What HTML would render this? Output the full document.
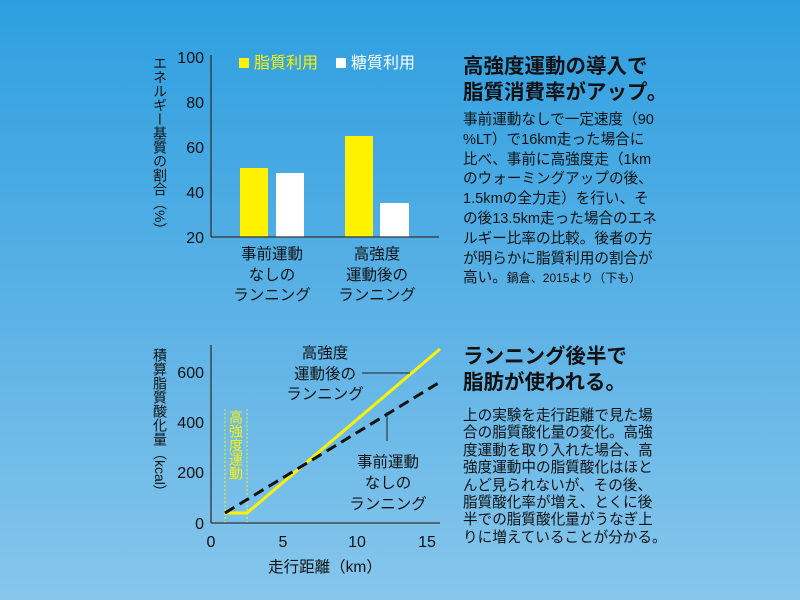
<!DOCTYPE html>
<html><head><meta charset="utf-8"><style>
html,body{margin:0;padding:0}
body{width:800px;height:600px;overflow:hidden;background:linear-gradient(#2e9fe0,#5eb3e6 55%,#86c6ec);font-family:"Liberation Sans","Noto Sans CJK JP",sans-serif;position:relative;color:#111}
.t{position:absolute;white-space:nowrap}
.h{font-weight:bold;font-size:20.5px;line-height:26px;left:463px}
.b{font-size:14.6px;left:463px}
.v{position:absolute;writing-mode:vertical-rl;font-size:14px;line-height:15px;letter-spacing:0}
</style></head><body>
<svg width="800" height="600" style="position:absolute;left:0;top:0" font-family="Liberation Sans, Noto Sans CJK JP, sans-serif">
<rect x="240" y="168" width="28" height="69" fill="#fff200"/>
<rect x="276" y="173" width="28" height="64" fill="#fff"/>
<rect x="345" y="136" width="28" height="101" fill="#fff200"/>
<rect x="380" y="203" width="29" height="34" fill="#fff"/>
<line x1="211" y1="55" x2="211" y2="237" stroke="#333" stroke-width="1.3"/>
<line x1="211" y1="237" x2="439" y2="237" stroke="#333" stroke-width="1.3"/>
<g font-size="16" fill="#111" text-anchor="end">
<text x="204" y="63">100</text><text x="204" y="108">80</text><text x="204" y="153">60</text><text x="204" y="198">40</text><text x="204" y="243">20</text>
</g>
<rect x="239" y="58" width="10" height="10" fill="#fff200"/>
<text x="254" y="68" font-size="16" fill="#fff200">脂質利用</text>
<rect x="336" y="58" width="10" height="10" fill="#fff"/>
<text x="351" y="68" font-size="16" fill="#fff">糖質利用</text>
<g font-size="15.5" fill="#111" text-anchor="middle">
<text x="272" y="259">事前運動</text><text x="272" y="280">なしの</text><text x="272" y="300">ランニング</text>
<text x="377" y="259">高強度</text><text x="377" y="280">運動後の</text><text x="377" y="300">ランニング</text>
</g>
<line x1="225" y1="409" x2="225" y2="523" stroke="#fff200" stroke-width="1" stroke-dasharray="2,2"/>
<line x1="247" y1="409" x2="247" y2="523" stroke="#fff200" stroke-width="1" stroke-dasharray="2,2"/>
<line x1="211" y1="345" x2="211" y2="523" stroke="#333" stroke-width="1.3"/>
<line x1="211" y1="523" x2="440" y2="523" stroke="#333" stroke-width="1.3"/>
<polyline points="225,513 247,513 440,349" fill="none" stroke="#fff200" stroke-width="3"/>
<line x1="225" y1="513" x2="440" y2="382" stroke="#111" stroke-width="3" stroke-dasharray="11,6"/>
<line x1="362" y1="373" x2="410" y2="373" stroke="#222" stroke-width="1"/>
<line x1="387" y1="412" x2="387" y2="441" stroke="#222" stroke-width="1"/>
<g font-size="16" fill="#111" text-anchor="end">
<text x="204" y="378">600</text><text x="204" y="428">400</text><text x="204" y="478">200</text><text x="204" y="529">0</text>
</g>
<g font-size="16" fill="#111" text-anchor="middle">
<text x="211" y="547">0</text><text x="283" y="547">5</text><text x="357" y="547">10</text><text x="427" y="547">15</text>
<text x="325" y="572" font-size="15.5">走行距離（km）</text>
</g>
<g font-size="15.5" fill="#111" text-anchor="middle">
<text x="325" y="358">高強度</text><text x="325" y="379">運動後の</text><text x="325" y="399">ランニング</text>
<text x="388" y="467">事前運動</text><text x="388" y="488">なしの</text><text x="388" y="509">ランニング</text>
</g>
</svg>
<div class="v" style="left:152px;top:56px;">エネルギー基質の割合（%）</div>
<div class="v" style="left:152px;top:348px;">積算脂質酸化量（kcal）</div>
<div class="v" style="left:228px;top:410px;color:#fff200;font-size:14px">高強度運動</div>
<div class="t h" style="top:54px">高強度運動の導入で<br>脂質消費率がアップ。</div>
<div class="t b" style="top:111px;line-height:19.8px">事前運動なしで一定速度（90<br>%LT）で16km走った場合に<br>比べ、事前に高強度走（1km<br>のウォーミングアップの後、<br>1.5kmの全力走）を行い、そ<br>の後13.5km走った場合のエネ<br>ルギー比率の比較。後者の方<br>が明らかに脂質利用の割合が<br>高い。<span style="font-size:12px">鍋倉、2015より（下も）</span></div>
<div class="t h" style="top:344px">ランニング後半で<br>脂肪が使われる。</div>
<div class="t b" style="top:408px;line-height:17.4px">上の実験を走行距離で見た場<br>合の脂質酸化量の変化。高強<br>度運動を取り入れた場合、高<br>強度運動中の脂質酸化はほと<br>んど見られないが、その後、<br>脂質酸化率が増え、とくに後<br>半での脂質酸化量がうなぎ上<br>りに増えていることが分かる。</div>
</body></html>
